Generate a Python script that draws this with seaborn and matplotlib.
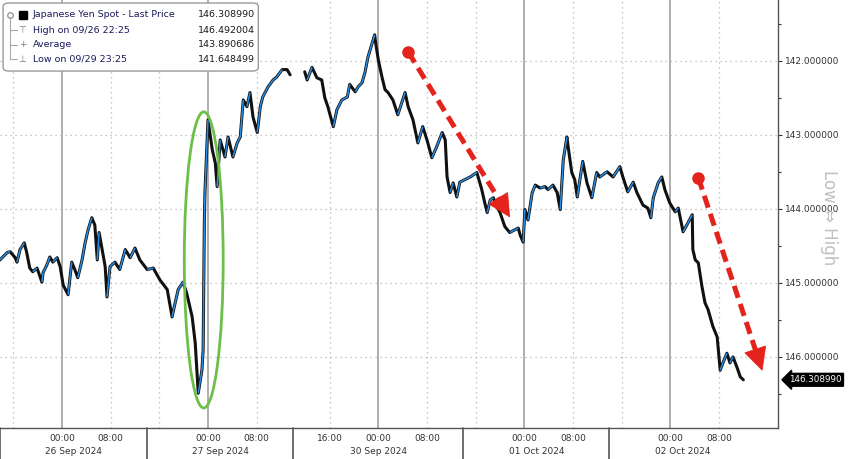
import matplotlib
matplotlib.use("Agg")
import matplotlib.pyplot as plt
import matplotlib.transforms as mtransforms
from matplotlib.patches import Ellipse, FancyBboxPatch, Polygon
import numpy as np
import pandas as pd
import seaborn as sns

# trading-time hours counted from 26 Sep 00:00 (weekend 27 Sep 14:00 -> 29 Sep 10:00 collapsed)
hours = [
    -10.2, -9.0, -8.5, -7.7, -7.4, -6.9, -6.2, -5.8, -5.3, -4.8, -4.1, -3.3, -3.1, -2.5, -2.0, -1.5,
    -0.8, -0.3, 0.2, 1.0, 1.6, 2.1, 2.6, 3.3, 3.8, 4.3, 4.9, 5.4, 5.8, 6.1, 6.6, 7.1, 7.4, 7.9,
    8.7, 9.5, 10.4, 11.2, 12.0, 12.8, 14.0, 15.0, 16.1, 17.3, 18.1, 18.6, 19.1, 19.9, 20.5, 21.4,
    21.9, 22.4, 23.0, 23.2, 23.4, 23.5, 23.7, 24.0, 24.7, 25.2, 25.5, 26.0, 26.8, 27.3, 28.1, 28.8,
    29.3, 29.8, 30.4, 30.9, 31.4, 32.1, 32.6, 33.0, 33.9, 34.7, 35.3, 36.2, 37.0, 37.5,
    39.9, 40.3, 41.1, 41.9, 42.7, 43.2, 43.7, 44.6, 45.2, 46.0, 46.9, 47.3, 48.2, 48.7, 49.3, 49.8,
    50.3, 51.4, 51.6, 52.0, 52.6, 53.1, 53.6, 54.4, 55.2, 56.4, 56.9, 57.7, 58.5, 59.3, 60.0, 60.8,
    61.6, 62.5, 63.0, 63.3, 63.8, 64.3, 64.9, 65.4, 67.1, 68.2, 69.0, 69.5, 69.9, 70.4, 70.9, 71.5,
    72.0, 72.8, 73.6, 74.5, 75.0, 75.3, 75.8, 76.1, 76.6, 77.3, 77.8, 78.6, 79.4, 79.9, 80.7, 81.4,
    81.9, 82.2, 82.4, 83.0, 83.2, 83.8, 84.3, 84.7, 85.2, 85.6, 86.3, 87.1, 87.9, 88.4, 89.6, 90.6,
    91.7, 92.2, 93.0, 93.9, 94.5, 95.5, 96.3, 96.8, 97.2, 98.0, 98.6, 99.1, 99.9, 100.8, 101.3, 102.1,
    102.7, 103.6, 103.7, 104.1, 104.6, 105.2, 105.7, 106.2, 107.0, 107.7, 108.2, 108.7, 109.3, 109.8,
    110.3, 111.0, 111.5, 112.0,
]
price = [
    144.69, 144.59, 144.58, 144.66, 144.72, 144.55, 144.46, 144.59, 144.80, 144.85, 144.80, 144.99,
    144.86, 144.76, 144.65, 144.72, 144.66, 144.78, 145.03, 145.16, 144.72, 144.82, 144.93, 144.69,
    144.46, 144.28, 144.12, 144.22, 144.69, 144.32, 144.55, 144.78, 145.19, 144.78, 144.72, 144.82,
    144.55, 144.66, 144.53, 144.69, 144.82, 144.80, 144.96, 145.09, 145.46, 145.27, 145.09, 144.99,
    145.14, 145.46, 145.81, 146.49, 146.18, 145.91, 144.19, 143.78, 143.38, 142.80, 143.20, 143.38,
    143.70, 143.07, 143.30, 143.03, 143.30, 143.11, 143.03, 142.53, 142.62, 142.43, 142.76, 142.97,
    142.62, 142.49, 142.35, 142.26, 142.22, 142.12, 142.12, 142.19,
    142.15, 142.26, 142.09, 142.23, 142.26, 142.50, 142.62, 142.89, 142.66, 142.53, 142.49, 142.32,
    142.42, 142.35, 142.30, 142.16, 141.95, 141.65, 141.78, 141.99, 142.22, 142.39, 142.43, 142.53,
    142.73, 142.43, 142.62, 142.80, 143.11, 142.89, 143.07, 143.31, 143.16, 142.97, 143.07, 143.57,
    143.78, 143.65, 143.84, 143.64, 143.57, 143.51, 143.74, 143.92, 144.05, 143.88, 143.85, 143.97,
    144.05, 144.24, 144.32, 144.28, 144.26, 144.35, 144.45, 144.01, 144.15, 143.78, 143.68, 143.72,
    143.70, 143.74, 143.68, 143.78, 144.01, 143.61, 143.34, 143.03, 143.16, 143.51, 143.61, 143.84,
    143.57, 143.36, 143.65, 143.85, 143.51, 143.57, 143.50, 143.57, 143.43, 143.57, 143.77, 143.64,
    143.78, 143.95, 143.99, 144.12, 143.85, 143.65, 143.57, 143.74, 143.92, 144.04, 143.99, 144.31,
    144.22, 144.08, 144.55, 144.69, 144.73, 145.05, 145.27, 145.36, 145.59, 145.73, 146.18, 146.07,
    145.95, 146.08, 146.00, 146.15, 146.27, 146.309,
]
weekend_break = 38

session_edges = [14, 38, 66, 90]
day_labels = ["26 Sep 2024", "27 Sep 2024", "30 Sep 2024", "01 Oct 2024", "02 Oct 2024"]
day_centers = [1.9, 26, 52, 78, 102]
time_ticks = [0, 8, 24, 32, 44, 52, 60, 76, 84, 100, 108]
time_labels = ["00:00", "08:00", "00:00", "08:00", "16:00", "00:00", "08:00",
               "00:00", "08:00", "00:00", "08:00"]
midnights = [0, 24, 52, 76, 100]
dotted_hours = [-8, 8, 16, 32, 44, 60, 68, 84, 92, 108]
y_ticks = [142, 143, 144, 145, 146]

legend_rows = [
    ("Japanese Yen Spot - Last Price", "146.308990"),
    ("High on 09/26 22:25", "146.492004"),
    ("Average", "143.890686"),
    ("Low on 09/29 23:25", "141.648499"),
]
last_price = 146.308990

df = pd.DataFrame({"hours": hours, "price": price})
df["session"] = (df["hours"] > weekend_break).astype(int)

sns.set_style("white")
plt.rcParams["font.family"] = ["DejaVu Sans"]

fig = plt.figure(figsize=(8.48, 4.59), dpi=100)
ax = fig.add_axes([0, 1 - 428 / 459, 778 / 848, 428 / 459])

# grid
for m in midnights:
    ax.axvline(m, color="#a8a8a8", lw=1.3, zorder=1)
for h in dotted_hours:
    ax.axvline(h, color="#b4b4b4", lw=0.9, ls=(0, (1, 3)), zorder=1)
for v in y_ticks:
    ax.axhline(v, color="#b4b4b4", lw=0.9, ls=(0, (1, 3)), zorder=1)

sns.lineplot(data=df, x="hours", y="price", units="session", estimator=None,
             sort=False, color="#111111", lw=2.2, ax=ax, zorder=3)

# falling bars in blue
for s, g in df.groupby("session"):
    xs = g["hours"].to_numpy()
    ps = g["price"].to_numpy()
    for i in range(len(xs) - 1):
        if ps[i + 1] < ps[i]:
            ax.plot(xs[i:i + 2], ps[i:i + 2], color="#2a8de4", lw=1.1, zorder=4,
                    solid_capstyle="butt")

ax.set_xlim(-10.19, 117.7)
ax.set_ylim(146.96, 141.18)
ax.set_xlabel("")
ax.set_ylabel("")

# green ellipse around the jump
ax.add_patch(Ellipse((23.3, 144.69), width=6.4, height=4.0, fill=False,
                     ec="#6cc04a", lw=2.0, zorder=6))

# red dashed arrows (head built in pixel space so it stays a proper triangle)
red = "#e4231c"
arrows = [((56.9, 141.88), (73.6, 144.11)), ((104.6, 143.58), (115.1, 146.18))]
to_px = ax.transData
to_data = ax.transData.inverted()
for (x0, y0), (x1, y1) in arrows:
    p0 = to_px.transform((x0, y0))
    p1 = to_px.transform((x1, y1))
    u = (p1 - p0) / np.hypot(*(p1 - p0))
    n = np.array([-u[1], u[0]])
    base = p1 - u * 22
    tri = to_data.transform([p1, base + n * 11, base - n * 11])
    bx, by = to_data.transform(base + u * 3)
    ax.plot([x0, bx], [y0, by], color=red, lw=3.6, ls=(0, (2.5, 1.3)), zorder=7,
            dash_capstyle="butt")
    ax.plot(x0, y0, "o", color=red, ms=8, zorder=7)
    ax.add_patch(Polygon(tri, closed=True, fc=red, ec=red, lw=0.5, zorder=7))

# axes styling
for side in ["top", "left"]:
    ax.spines[side].set_visible(False)
for side in ["right", "bottom"]:
    ax.spines[side].set_color("#555555")
    ax.spines[side].set_linewidth(1.0)

ax.yaxis.tick_right()
ax.set_yticks(y_ticks)
ax.set_yticklabels([f"{v:.6f}" for v in y_ticks])
ax.set_yticks(np.arange(141.5, 147, 0.5), minor=True)
ax.tick_params(axis="y", which="both", direction="out", length=3, width=0.8,
               color="#333333", labelsize=6.5, labelcolor="#333333", pad=2)
ax.tick_params(axis="y", which="minor", length=2)

ax.set_xticks(time_ticks)
ax.set_xticklabels(time_labels)
ax.set_xticks(np.arange(-8, 117, 4), minor=True)
ax.tick_params(axis="x", which="both", direction="out", length=2.5, width=0.8,
               color="#333333", labelsize=6.5, labelcolor="#333333", pad=1.5)
ax.tick_params(axis="x", which="minor", length=2)

trans = mtransforms.blended_transform_factory(ax.transData, ax.transAxes)
for c, lab in zip(day_centers, day_labels):
    ax.text(c, -0.054, lab, transform=trans, ha="center", va="center",
            fontsize=6.5, color="#333333")
for e in [-10.19] + session_edges:
    ax.plot([e, e], [0, -0.075], transform=trans, color="#555555", lw=1.2, clip_on=False)

# last price tag
ytrans = mtransforms.blended_transform_factory(ax.transAxes, ax.transData)
ax.text(1.014, last_price, "146.308990", transform=ytrans, ha="left", va="center",
        fontsize=6.3, color="white",
        bbox=dict(boxstyle="larrow,pad=0.22", fc="black", ec="black"))

fig.text(0.978, 0.525, "Low \u21d4 High", rotation=-90, ha="center", va="center",
         fontsize=12, color="#c0c0c0", zorder=0)

# legend box
ax.add_patch(FancyBboxPatch((0.004, 0.834), 0.328, 0.159, transform=ax.transAxes,
                            boxstyle="round,pad=0,rounding_size=0.008",
                            fc="white", ec="#9a9a9a", lw=1.0, zorder=8))
row_y = [0.965, 0.929, 0.896, 0.861]
ax.plot([0.013, 0.013], [row_y[0], row_y[3]], transform=ax.transAxes, color="#aaaaaa",
        lw=0.8, zorder=9)
ax.plot(0.013, row_y[0], "o", transform=ax.transAxes, ms=4, mfc="white", mec="#999999",
        zorder=9)
ax.plot(0.029, row_y[0], "s", transform=ax.transAxes, ms=6, color="black", zorder=9)
for yy, glyph in zip(row_y[1:], ["\u22a4", "+", "\u22a5"]):
    ax.plot([0.013, 0.022], [yy, yy], transform=ax.transAxes, color="#aaaaaa", lw=0.8,
            zorder=9)
    ax.text(0.029, yy, glyph, transform=ax.transAxes, ha="center", va="center",
            fontsize=6.5, color="#777777", zorder=9)
for yy, (lab, val) in zip(row_y, legend_rows):
    ax.text(0.042, yy, lab, transform=ax.transAxes, ha="left", va="center",
            fontsize=6.8, color="#1a1a5a", zorder=9)
    ax.text(0.328, yy, val, transform=ax.transAxes, ha="right", va="center",
            fontsize=6.8, color="#1a1a1a", zorder=9)

fig.savefig("out.png", dpi=100)
